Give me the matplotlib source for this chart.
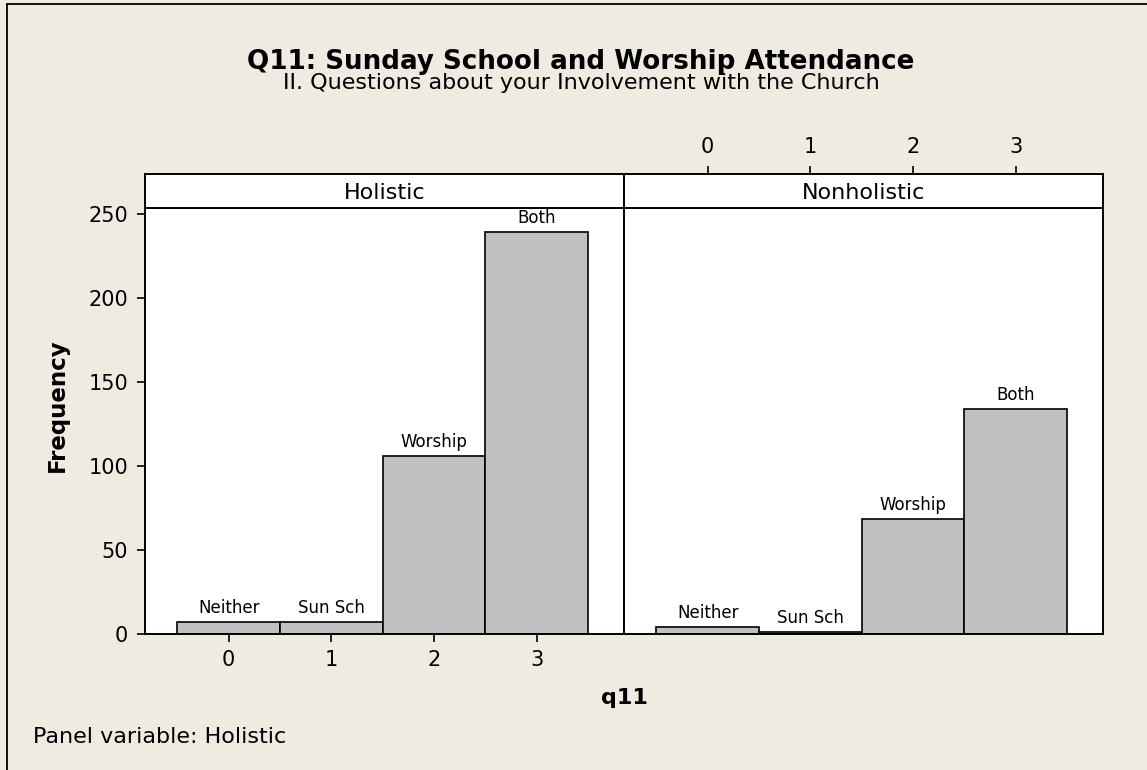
import matplotlib
matplotlib.use('Agg')
import matplotlib.pyplot as plt
from matplotlib.lines import Line2D

plt.rcParams['font.family'] = ['DejaVu Sans']

panels = ['Holistic', 'Nonholistic']
q11_values = [0, 1, 2, 3]
bar_labels = ['Neither', 'Sun Sch', 'Worship', 'Both']
counts = {
    'Holistic': [7, 7, 106, 239],
    'Nonholistic': [4, 1, 68, 134],
}
y_ticks = [0, 50, 100, 150, 200, 250]

bg = '#EFEBE1'
bar_color = '#C0C0C0'

W, H = 1147, 770
fig = plt.figure(figsize=(W / 100, H / 100), dpi=100, facecolor=bg)

left, mid, right = 145 / W, 624 / W, 1103 / W
bottom, top, strip_top = 1 - 633.5 / H, 1 - 208 / H, 1 - 174 / H
xlim = (-0.815, 3.849)
ylim = (0, 253.6)

for i, name in enumerate(panels):
    x0 = left if i == 0 else mid
    w = mid - left if i == 0 else right - mid
    ax = fig.add_axes([x0, bottom, w, top - bottom])
    strip = fig.add_axes([x0, top, w, strip_top - top])

    ax.bar(q11_values, counts[name], width=1.0, color=bar_color,
           edgecolor='black', linewidth=1.2)
    for x, c, lab in zip(q11_values, counts[name], bar_labels):
        ax.annotate(lab, (x, c), xytext=(0, 6.5), textcoords='offset points',
                    ha='center', va='baseline', fontsize=12)

    ax.set_xlim(*xlim)
    ax.set_ylim(*ylim)
    ax.set_facecolor('white')
    for s in ax.spines.values():
        s.set_linewidth(1.4)
    ax.tick_params(length=6, width=1.2, pad=6, labelsize=15)

    strip.set_xlim(*xlim)
    strip.set_facecolor('white')
    strip.set_yticks([])
    for s in strip.spines.values():
        s.set_linewidth(1.4)
    strip.text(0.5, 0.45, name, transform=strip.transAxes, ha='center',
               va='center', fontsize=16)

    if i == 0:
        ax.set_xticks(q11_values)
        ax.set_yticks(y_ticks)
        strip.set_xticks([])
    else:
        ax.set_xticks([])
        ax.set_yticks([])
        strip.set_xticks(q11_values)
        strip.xaxis.tick_top()
        strip.tick_params(length=6, width=1.2, pad=6, labelsize=15)

fig.text(581 / W, 1 - 69 / H, 'Q11: Sunday School and Worship Attendance',
         ha='center', va='baseline', fontsize=18.8, fontweight='bold')
fig.text(581 / W, 1 - 89 / H, 'II. Questions about your Involvement with the Church',
         ha='center', va='baseline', fontsize=16)
fig.text(57 / W, 1 - 405 / H, 'Frequency', ha='center', va='center',
         rotation=90, fontsize=16.5, fontweight='bold')
fig.text(624 / W, 1 - 704 / H, 'q11', ha='center', va='baseline',
         fontsize=16, fontweight='bold')
fig.text(33 / W, 1 - 743 / H, 'Panel variable: Holistic', ha='left',
         va='baseline', fontsize=16)

# outer frame (top and left edges only)
fig.add_artist(Line2D([7 / W, 7 / W], [0, 1 - 4 / H], color='black', lw=1.3,
                      transform=fig.transFigure))
fig.add_artist(Line2D([7 / W, 1], [1 - 4 / H, 1 - 4 / H], color='black', lw=1.3,
                      transform=fig.transFigure))

fig.savefig('out.png', dpi=100, facecolor=bg)
